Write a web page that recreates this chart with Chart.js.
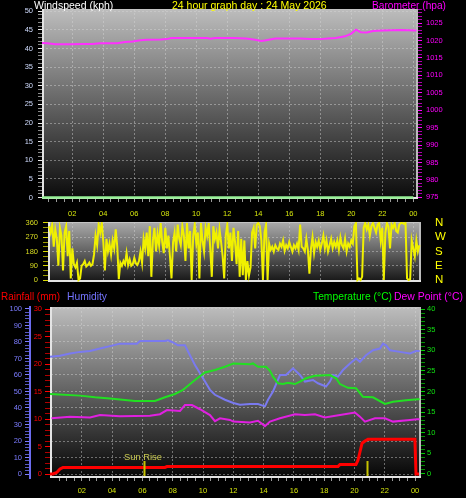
<!DOCTYPE html>
<html>
<head>
<meta charset="utf-8">
<script src="https://cdn.jsdelivr.net/npm/chart.js@4.4.0/dist/chart.umd.min.js"></script>
<style>
    body { margin: 0; background: #000; width: 466px; height: 498px; overflow: hidden; position: relative; }
    canvas { position: absolute; left: 0; }
</style>
</head>
<body>
<canvas id="cTop" width="466" height="218" style="top:0px"></canvas>
<canvas id="cDir" width="466" height="70" style="top:218px"></canvas>
<canvas id="cBot" width="466" height="210" style="top:288px"></canvas>
<script>
// ---- data (hours of the day) ----
var hourTicks = [2, 4, 6, 8, 10, 12, 14, 16, 18, 20, 22, 24];
var hourLabels = ['02', '04', '06', '08', '10', '12', '14', '16', '18', '20', '22', '00'];
var compassTicks = [0, 90, 180, 270, 360];
var compassLabels = ['N', 'E', 'S', 'W', 'N'];

var windTimes = [0, 1, 2, 3, 4, 5, 6, 7, 8, 9, 10, 11, 12, 13, 14, 15, 16, 17, 18, 19, 20, 21, 22, 23, 24];
var windSpeed = [0, 0, 0, 0, 0, 0, 0, 0, 0, 0, 0, 0, 0, 0, 0, 0, 0, 0, 0, 0, 0, 0, 0, 0, 0];

var baroTimes = [0.05, 0.4, 0.9, 1.9, 2.7, 3.3, 3.8, 4.9, 5.4, 5.9, 6.4, 6.8, 7.7, 8.1, 8.4, 9.0, 9.9, 10.7, 10.9, 11.2,
    12.4, 13.2, 13.8, 14.2, 14.5, 15.1, 16.0, 16.7, 17.3, 18.0, 18.5, 19.0, 19.6, 20.0, 20.3, 20.6, 21.0, 21.4, 22.0, 23.2, 24.2];
var baroValues = [1019.3, 1019.2, 1018.9, 1018.9, 1019.0, 1019.0, 1019.2, 1019.2, 1019.6, 1019.7, 1020.1, 1020.2, 1020.3, 1020.4, 1020.7, 1020.7,
    1020.7, 1020.7, 1020.5, 1020.7, 1020.7, 1020.6, 1020.2, 1019.9, 1020.1, 1020.6, 1020.6, 1020.6, 1020.4, 1020.4, 1020.6, 1020.7,
    1021.2, 1022.0, 1023.1, 1022.4, 1022.3, 1022.7, 1022.9, 1023.0, 1022.9];

// wind direction, one reading every 6 minutes from 00:30
var dirStart = 0.5, dirStep = 0.1;
var windDir = [
    340, 300, 350, 210, 320,
    260, 90, 330, 280, 60, 300, 340, 150, 310, 10,
    200, 100, 80, 110, 0, 10, 90, 100, 120, 85,
    95, 110, 90, 100, 160, 280, 220, 350, 300, 360,
    240, 60, 260, 180, 230, 160, 250, 200, 320, 210,
    5, 110, 90, 120, 100, 170, 95, 130, 90, 100,
    140, 105, 95, 120, 180, 110, 260, 200, 300, 150,
    340, 20, 250, 330, 180, 290, 220, 360, 240, 170,
    330, 200, 280, 150, 10, 240, 300, 180, 350, 260,
    220, 340, 280, 120, 360, 200, 310, 0, 280, 350,
    230, 300, 10, 360, 250, 180, 330, 280, 360, 200,
    20, 340, 260, 300, 200, 320, 240, 150, 10, 280,
    350, 200, 300, 120, 330, 240, 100, 310, 20, 260,
    30, 250, 0, 120, 30, 80, 300, 330, 200, 350,
    360, 340, 250, 0, 300, 350, 0, 230, 190, 210,
    180, 220, 200, 190, 230, 210, 250, 185, 220, 200,
    240, 210, 180, 220, 200, 230, 190, 350, 210, 200,
    180, 260, 190, 40, 200, 270, 170, 240, 210, 250,
    190, 230, 280, 200, 250, 180, 220, 260, 200, 240,
    210, 250, 190, 270, 220, 200, 260, 180, 230, 210,
    250, 230, 340, 360, 0, 10, 0, 20, 330, 360,
    320, 350, 280, 340, 360, 330, 300, 350, 360, 250,
    330, 0, 300, 360, 340, 200, 350, 330, 360, 310,
    300, 350, 360, 360, 355, 360, 10, 0, 5, 250,
    200, 150, 250, 180, 220
];

var humTimes = [-0.1, 0.56, 1.22, 1.88, 2.54, 3.2, 3.86, 4.52, 5.64, 5.84, 7.49, 7.69, 7.95, 8.35, 8.81, 9.14, 9.47, 9.8, 10.13, 10.46,
    10.79, 11.45, 12.0, 12.44, 13.1, 13.63, 14.09, 14.29, 14.62, 15.08, 15.48, 15.94, 16.4, 16.73, 17.26, 17.59, 18.12, 18.38, 18.58,
    18.91, 19.24, 19.7, 20.1, 20.36, 20.76, 21.22, 21.68, 21.88, 22.08, 22.34, 23.0, 23.66, 24.06, 24.3];
var humidity = [71, 71.7, 73, 74, 74.5, 76, 77.5, 79, 79, 80.6, 80.6, 81, 80, 78, 78, 72, 66, 61, 56, 51,
    48, 45, 43, 42, 42.4, 42.4, 41, 45, 50, 60, 60, 64, 60, 56, 57, 55, 53, 56, 60,
    59, 63, 67, 70, 68, 72, 75, 76, 79, 78, 75, 74, 73, 74.5, 74.5];

var tempTimes = [-0.1, 1.88, 2.87, 3.86, 5.51, 6.83, 7.49, 8.15, 8.68, 8.81, 9.47, 10.13, 10.79, 11.45, 12.0, 13.1, 13.3, 13.63, 14.16,
    14.42, 14.62, 14.95, 15.28, 15.61, 16.07, 16.4, 16.8, 17.39, 18.38, 18.78, 19.04, 19.57, 20.1, 20.36, 20.56, 21.22, 22.01, 22.54, 23.4, 24.19, 24.3];
var temperature = [19.4, 19.0, 18.6, 18.3, 17.7, 17.7, 18.6, 19.4, 20.4, 20.8, 22.8, 24.6, 25.2, 26, 26.8, 26.6, 26.8, 26, 26,
    25, 23.6, 22, 21.8, 22.1, 21.8, 22.4, 23.2, 23.8, 24, 23.2, 21.8, 20.9, 20.8, 19.6, 18.7, 18.6, 17, 17.5, 17.9, 18.1, 18.1];

var dewTimes = [0, 1.22, 2.54, 3.2, 4.52, 6.5, 7.16, 7.62, 8.48, 8.81, 9.27, 9.8, 10.46, 10.79, 11.12, 11.78, 12.0, 13.1, 13.63, 14.09,
    14.42, 15.08, 16.07, 16.73, 17.39, 18.05, 19.04, 20.03, 20.36, 20.69, 21.35, 22.01, 22.54, 23.66, 24.13, 24.3];
var dewPoint = [13.5, 13.9, 13.7, 14.3, 14.0, 14.1, 14.5, 15.5, 15.3, 16.7, 16.7, 15.7, 14.3, 12.8, 13.5, 13.1, 12.7, 12.5, 12.9, 11.6,
    12.7, 13.5, 14.5, 14.3, 14.5, 13.7, 14.3, 14.9, 13.9, 12.7, 13.5, 13.5, 12.7, 13.1, 13.3, 13.3];

var rainTimes = [-0.1, 0.1, 0.36, 0.56, 0.76, 7.49, 7.62, 18.91, 19.04, 20.1, 20.23, 20.36, 20.5, 20.69, 20.89, 23.99, 24.06, 24.26];
var rainfall = [0, 0, 0.3, 0.9, 1.2, 1.2, 1.35, 1.35, 1.75, 1.75, 2.5, 4, 5.6, 6.0, 6.3, 6.3, 0, 0];

var sunTimes = [6.1, 20.83];
var sunLabels = ['Sun Rise', ''];

// ---- helpers ----
Chart.defaults.font.family = '"Liberation Sans", Arial, sans-serif';
Chart.defaults.font.size = 7.5;

var GRID = 'rgba(215,215,215,0.45)';
var NONE = 'rgba(0,0,0,0)';

function pts(xs, ys) {
    return xs.map(function (x, i) { return { x: x, y: ys[i] }; });
}

function steps(from, to, step) {
    var a = [];
    for (var v = from; v <= to + 1e-9; v += step) a.push({ value: Math.round(v * 100) / 100 });
    return a;
}

function isMajor(c, every) {
    return c.tick && Math.abs(c.tick.value % every) < 1e-6;
}

function hourAxis(min, max, showLabels, pad, height) {
    return {
        type: 'linear', min: min, max: max,
        afterBuildTicks: function (s) { s.ticks = steps(0.5, 24, 0.5); },
        afterFit: function (s) { s.height = height; s.paddingLeft = 0; s.paddingRight = 0; },
        border: { display: false, dash: [2, 2] },
        grid: {
            color: function (c) { return c.tick && hourTicks.indexOf(c.tick.value) >= 0 ? GRID : NONE; },
            tickColor: '#9a9a9a', tickLength: 3, drawTicks: showLabels
        },
        ticks: {
            display: showLabels, autoSkip: false, maxRotation: 0, padding: pad, color: '#d4e40c',
            callback: function (v) { var i = hourTicks.indexOf(v); return i >= 0 ? hourLabels[i] : ''; }
        }
    };
}

function valueAxis(o) {
    return {
        type: 'linear', position: o.pos, min: o.min, max: o.max, weight: o.weight || 0,
        afterBuildTicks: function (s) { s.ticks = steps(o.from, o.to, o.step); },
        // fixed width, and no extra room for the end labels
        afterFit: function (s) { s.width = o.width; s.paddingTop = 0; s.paddingBottom = 0; },
        border: { display: !!o.axisLine, color: o.axisLine, width: 2, dash: [2, 2] },
        grid: {
            drawOnChartArea: !!o.grid,
            color: function (c) { return o.grid && isMajor(c, o.major) ? GRID : NONE; },
            tickColor: function (c) { return isMajor(c, o.major) ? o.tick : o.minorTick; },
            tickLength: o.tickLength
        },
        ticks: {
            color: o.color, padding: o.pad, autoSkip: false, font: { size: o.size || 7.5 },
            callback: o.labels || function (v) { return Math.abs(v % o.major) < 1e-6 ? v : ''; }
        }
    };
}

// gradient plot background, frame and free texts
var panelPlugin = {
    id: 'panel',
    beforeDraw: function (chart, args, opts) {
        var a = chart.chartArea, ctx = chart.ctx;
        var g = ctx.createLinearGradient(0, a.top, 0, a.bottom);
        g.addColorStop(0, opts.top);
        g.addColorStop(1, opts.bottom);
        ctx.save();
        ctx.fillStyle = g;
        ctx.fillRect(a.left, a.top, a.right - a.left, a.bottom - a.top);
        ctx.restore();
    },
    beforeDatasetsDraw: function (chart) {
        var a = chart.chartArea, ctx = chart.ctx;
        ctx.save();
        ctx.lineWidth = 1;
        ctx.strokeStyle = '#c4c4c4';
        ctx.beginPath(); ctx.moveTo(a.left, a.top + 0.5); ctx.lineTo(a.right, a.top + 0.5); ctx.stroke();
        ctx.lineWidth = 2;
        ctx.strokeStyle = '#bcbcbc';
        ctx.beginPath(); ctx.moveTo(a.right - 1, a.top); ctx.lineTo(a.right - 1, a.bottom); ctx.stroke();
        ctx.strokeStyle = '#e4e4e4';
        ctx.beginPath(); ctx.moveTo(a.left + 1, a.top); ctx.lineTo(a.left + 1, a.bottom);
        ctx.moveTo(a.left, a.bottom - 1); ctx.lineTo(a.right, a.bottom - 1); ctx.stroke();
        ctx.restore();
    },
    afterDraw: function (chart, args, opts) {
        var ctx = chart.ctx;
        ctx.save();
        (opts.texts || []).forEach(function (t) {
            ctx.font = (t.size || 10.5) + 'px "Liberation Sans", Arial, sans-serif';
            ctx.fillStyle = t.color;
            ctx.textAlign = 'left';
            ctx.textBaseline = 'alphabetic';
            ctx.fillText(t.text, t.x, t.y, t.w);
        });
        ctx.restore();
    }
};

var sunPlugin = {
    id: 'sun',
    afterDatasetsDraw: function (chart) {
        var ctx = chart.ctx, xs = chart.scales.x, a = chart.chartArea;
        ctx.save();
        sunTimes.forEach(function (t, i) {
            var px = Math.round(xs.getPixelForValue(t)) + 0.5;
            ctx.strokeStyle = '#c6c200';
            ctx.lineWidth = 2;
            ctx.beginPath(); ctx.moveTo(px, a.bottom - 2); ctx.lineTo(px, a.bottom - 17); ctx.stroke();
            if (sunLabels[i]) {
                ctx.fillStyle = '#c8c850';
                ctx.font = '9.5px "Liberation Sans", Arial, sans-serif';
                ctx.textAlign = 'center';
                ctx.fillText(sunLabels[i], px - 1.5, a.bottom - 18.5, 38);
            }
        });
        ctx.restore();
    }
};

function baseOptions(padding, panel) {
    return {
        responsive: false, animation: false, devicePixelRatio: 1,
        layout: { padding: padding },
        elements: { point: { radius: 0 }, line: { tension: 0 } },
        plugins: { legend: { display: false }, tooltip: { enabled: false }, panel: panel }
    };
}

// ---- top: windspeed + barometer ----
var topOpts = baseOptions({ top: 9 }, {
    top: '#bdbdbd', bottom: '#0a0a0a',
    texts: [
        { text: 'Windspeed (kph)', x: 34, y: 8.5, color: '#ffffff', w: 83 },
        { text: '24 hour graph day : 24 May 2026', x: 172, y: 8.5, color: '#ffff00', w: 158 },
        { text: 'Barometer (hpa)', x: 372, y: 8.5, color: '#ff00ff', w: 74 }
    ]
});
topOpts.scales = {
    x: hourAxis(0.05, 24.3, true, 7, 19),
    y: valueAxis({ pos: 'left', min: -0.38, max: 50.59, from: 0, to: 50, step: 1, major: 5, width: 42,
        grid: true, tick: '#e8e8e8', minorTick: '#8a8a8a', tickLength: 4, color: '#d0dcff', pad: 5 }),
    yb: valueAxis({ pos: 'right', min: 974.54, max: 1029.04, from: 975, to: 1029, step: 1, major: 5, width: 48,
        tick: '#ff00ff', minorTick: '#b000b0', tickLength: 4, color: '#ff00ff', pad: 4 })
};
new Chart(document.getElementById('cTop'), {
    type: 'line',
    data: {
        datasets: [
            { data: pts(baroTimes, baroValues), yAxisID: 'yb', borderColor: '#ff30ff', borderWidth: 2 },
            { data: pts(windTimes, windSpeed), yAxisID: 'y', borderColor: '#96f096', borderWidth: 2.5 }
        ]
    },
    options: topOpts,
    plugins: [panelPlugin]
});

// ---- middle: wind direction ----
var dirTimes = windDir.map(function (v, i) { return Math.round((dirStart + i * dirStep) * 100) / 100; });
var dirOpts = baseOptions({ top: 4 }, { top: '#ababab', bottom: '#161616' });
dirOpts.scales = {
    x: hourAxis(0.43, 24.5, false, 0, 6),
    y: valueAxis({ pos: 'left', min: -12.6, max: 366.3, from: 0, to: 360, step: 30, major: 90, width: 48,
        grid: true, tick: '#d8d800', minorTick: '#9c9c00', tickLength: 5, color: '#d8dc20', pad: 5 }),
    yc: valueAxis({ pos: 'right', min: -12.6, max: 366.3, from: 0, to: 360, step: 90, major: 90, width: 45,
        tick: NONE, minorTick: NONE, tickLength: 0, color: '#ffff00', pad: 14, size: 11.5,
        labels: function (v) { var i = compassTicks.indexOf(v); return i >= 0 ? compassLabels[i] : ''; } })
};
new Chart(document.getElementById('cDir'), {
    type: 'line',
    data: {
        datasets: [
            { data: pts(dirTimes, windDir), yAxisID: 'y', borderColor: '#f0f000', borderWidth: 2 }
        ]
    },
    options: dirOpts,
    plugins: [panelPlugin]
});

// ---- bottom: rain, humidity, temperature, dew point ----
var botOpts = baseOptions({ top: 19 }, {
    top: '#bdbdbd', bottom: '#050505',
    texts: [
        { text: 'Rainfall (mm)', x: 1, y: 12, color: '#ff0000', w: 59 },
        { text: 'Humidity', x: 67, y: 12, color: '#7474ff', w: 40 },
        { text: 'Temperature (\u00b0C)', x: 313, y: 12, color: '#00ff00', w: 79 },
        { text: 'Dew Point (\u00b0C)', x: 394, y: 12, color: '#ff00ff', w: 69 }
    ]
});
botOpts.scales = {
    x: hourAxis(-0.1, 24.39, true, 5, 20),
    yh: valueAxis({ pos: 'left', weight: 2, min: -2.42, max: 101.2, from: 0, to: 100, step: 2, major: 10, width: 30,
        grid: true, axisLine: '#6c6cf0', tick: '#7c7cff', minorTick: '#5858c0', tickLength: 5, color: '#7c7cff', pad: 3 }),
    yr: valueAxis({ pos: 'left', weight: 1, min: -0.727, max: 30.364, from: 0, to: 30, step: 1, major: 5, width: 20,
        tick: '#ff0000', minorTick: '#b00000', tickLength: 5, color: '#ff0000', pad: 3 }),
    yt: valueAxis({ pos: 'right', min: -0.97, max: 40.485, from: 0, to: 40, step: 1, major: 5, width: 45,
        tick: '#00d000', minorTick: '#009000', tickLength: 4, color: '#10e010', pad: 2 })
};
new Chart(document.getElementById('cBot'), {
    type: 'line',
    data: {
        datasets: [
            { data: pts(rainTimes, rainfall), yAxisID: 'yr', borderColor: '#ff0000', borderWidth: 3 },
            { data: pts(dewTimes, dewPoint), yAxisID: 'yt', borderColor: '#e020e0', borderWidth: 2 },
            { data: pts(tempTimes, temperature), yAxisID: 'yt', borderColor: '#22e022', borderWidth: 2 },
            { data: pts(humTimes, humidity), yAxisID: 'yh', borderColor: '#7a7af0', borderWidth: 2 }
        ]
    },
    options: botOpts,
    plugins: [panelPlugin, sunPlugin]
});
</script>
</body>
</html>
